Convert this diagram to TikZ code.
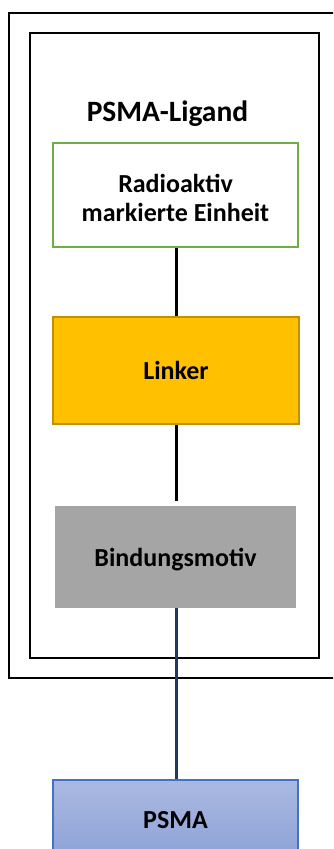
\documentclass[tikz,border=0pt]{standalone}
\usepackage{fontspec}
\setmainfont{Carlito}
\definecolor{lgreen}{HTML}{70AD47}
\definecolor{gold}{HTML}{FFC000}
\definecolor{golddark}{HTML}{BF9000}
\definecolor{mgray}{HTML}{A5A5A5}
\definecolor{navy}{HTML}{1F3864}
\definecolor{pblue}{HTML}{4472C4}
\definecolor{ptop}{HTML}{AAB9E1}
\definecolor{pbot}{HTML}{8DA2D7}
\begin{document}
\begin{tikzpicture}[x=1pt,y=-1pt,
  frame/.style={draw=black,line width=2.6pt},
  boxtext/.style={font=\fontsize{26}{29}\selectfont\bfseries,inner sep=0pt,align=center,text height=18pt,text depth=0pt},
  radbox/.style={boxtext,draw=lgreen,line width=2pt,fill=white,minimum width=245pt,minimum height=104pt},
  linkbox/.style={boxtext,draw=golddark,line width=2pt,fill=gold,minimum width=246pt,minimum height=107pt},
  bindbox/.style={boxtext,fill=mgray,minimum width=241pt,minimum height=102pt},
  psmabox/.style={boxtext,draw=pblue,line width=1.8pt,top color=ptop,bottom color=pbot,minimum width=245pt,minimum height=78pt},
  blackline/.style={draw=black,line width=3pt},
  blueline/.style={draw=navy,line width=3pt}]
\useasboundingbox (0,0) rectangle (333,849);
\clip (0,0) rectangle (333,849);
\draw[frame] (9,13) rectangle (348,678);
\draw[frame] (30,33) rectangle (319,658);
\node[font=\fontsize{29.5}{34}\selectfont\bfseries,anchor=base,inner sep=0pt] (title) at (167.5,121) {PSMA-Ligand};
\node[radbox,text height=,text depth=] (rad) at (175.5,195) {\rule{0pt}{25pt}Radioaktiv\\markierte Einheit};
\node[linkbox] (link) at (176,370.5) {Linker};
\node[bindbox] (bind) at (175.5,557) {Bindungsmotiv};
\node[psmabox] (psma) at (175.5,819) {PSMA};
\coordinate (lend) at (176,501);
\draw[blackline] (rad.south -| link.north) -- (link.north);
\draw[blackline] (link.south) -- (lend);
\draw[blueline] (bind.south -| link.south) -- (psma.north -| link.south);
\end{tikzpicture}
\end{document}
